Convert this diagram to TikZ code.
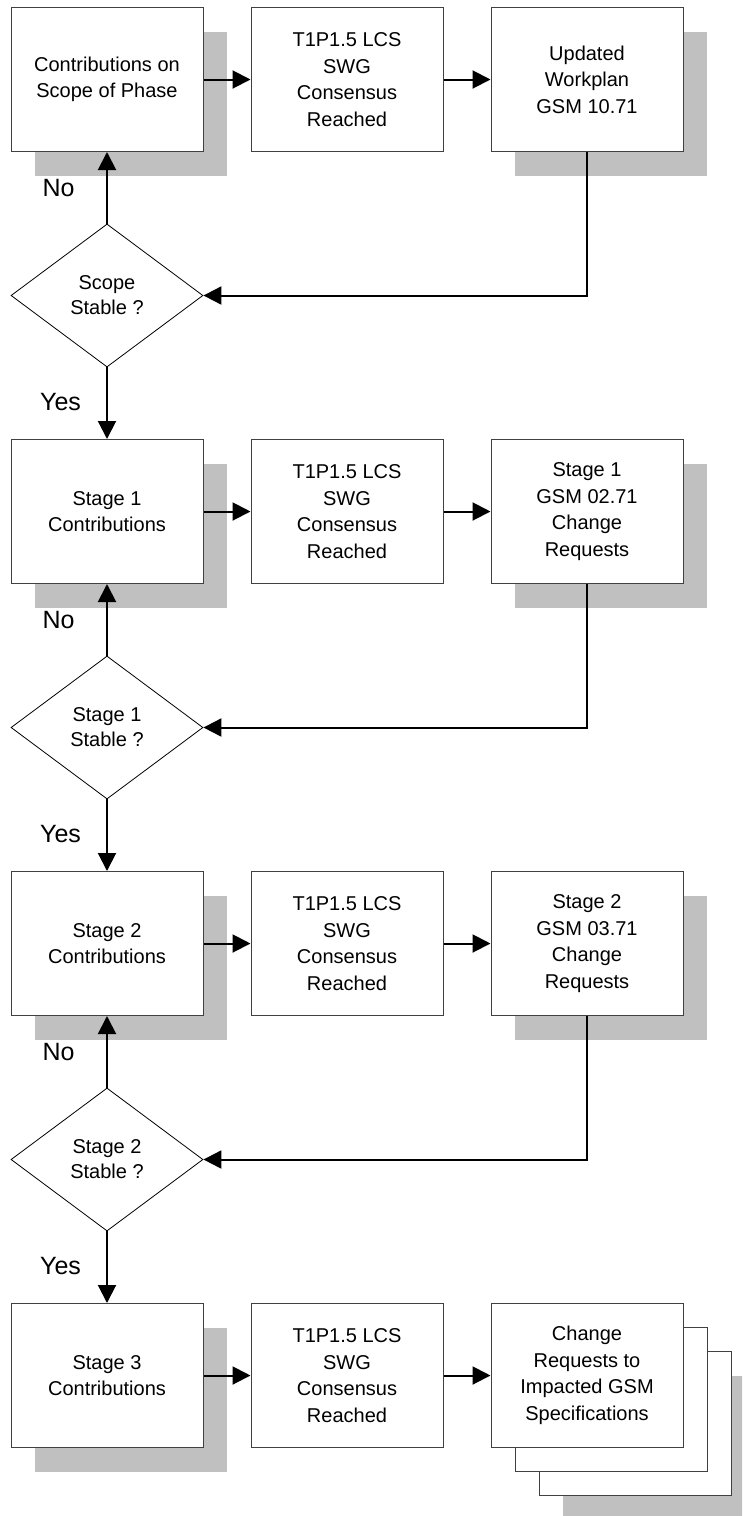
\documentclass[tikz,border=0pt]{standalone}
\usepackage{fontspec}
\setmainfont{Liberation Sans}
\usetikzlibrary{shapes.geometric,shadows,arrows.meta}
\definecolor{shadowgray}{HTML}{C0C0C0}
\definecolor{edgegray}{HTML}{404040}
\tikzset{box/.style={draw=edgegray, line width=1pt, fill=white,
                     minimum width=192pt, minimum height=144pt, inner sep=0pt,
                     align=center, font=\fontsize{20}{26.5}\selectfont}}
\tikzset{shadowed/.style={box, general shadow={fill=shadowgray, draw=none,
                     shadow xshift=24pt, shadow yshift=-24pt}}}
\tikzset{decision/.style={diamond, draw=black, line width=0.8pt, fill=white,
                     minimum width=192pt, minimum height=143pt, inner sep=0pt,
                     align=center, font=\fontsize{20}{25}\selectfont}}
\tikzset{flow/.style={line width=2pt, -{Triangle[length=18pt,width=18pt]}}}
\tikzset{answer/.style={inner sep=0pt, font=\fontsize{25}{30}\selectfont}}
\begin{document}
\begin{tikzpicture}[x=1pt, y=1pt]
            \path[use as bounding box, clip] (0,0) rectangle (742,-1516);

            \node[shadowed] (c1) at (107, -79.5) {Contributions on\\Scope of Phase};
            \node[box] (t1) at (347, -79.5) {T1P1.5 LCS\\SWG\\Consensus\\Reached};
            \node[shadowed] (u1) at (587, -79.5) {Updated\\Workplan\\GSM 10.71};
            \node[decision] (d1) at (107, -295.5) {Scope\\Stable ?};
            \node[answer] (no1) at (58.5, -188) {No};
            \node[answer] (yes1) at (60.5, -402) {Yes};

                    \draw[flow] (c1) -- (t1);
                    \draw[flow] (t1) -- (u1);
                    \draw[flow] (u1.south) |- (d1.east);
                    \draw[flow] (d1.north) -- (c1.south);

            \node[shadowed] (c2) at (107, -511.5) {Stage 1\\Contributions};
            \node[box] (t2) at (347, -511.5) {T1P1.5 LCS\\SWG\\Consensus\\Reached};
            \node[shadowed] (u2) at (587, -511.5) {Stage 1\\GSM 02.71\\Change\\Requests};
            \node[decision] (d2) at (107, -727.5) {Stage 1\\Stable ?};
            \node[answer] (no2) at (58.5, -620) {No};
            \node[answer] (yes2) at (60.5, -834) {Yes};

                    \draw[flow] (c2) -- (t2);
                    \draw[flow] (t2) -- (u2);
                    \draw[flow] (u2.south) |- (d2.east);
                    \draw[flow] (d2.north) -- (c2.south);

            \node[shadowed] (c3) at (107, -943.5) {Stage 2\\Contributions};
            \node[box] (t3) at (347, -943.5) {T1P1.5 LCS\\SWG\\Consensus\\Reached};
            \node[shadowed] (u3) at (587, -943.5) {Stage 2\\GSM 03.71\\Change\\Requests};
            \node[decision] (d3) at (107, -1159.5) {Stage 2\\Stable ?};
            \node[answer] (no3) at (58.5, -1052) {No};
            \node[answer] (yes3) at (60.5, -1266) {Yes};

                    \draw[flow] (c3) -- (t3);
                    \draw[flow] (t3) -- (u3);
                    \draw[flow] (u3.south) |- (d3.east);
                    \draw[flow] (d3.north) -- (c3.south);

            \node[shadowed] (c4) at (107, -1375.5) {Stage 3\\Contributions};
            \node[box] (t4) at (347, -1375.5) {T1P1.5 LCS\\SWG\\Consensus\\Reached};
            \node[shadowed] (ch3) at (635, -1423.5) {};
            \node[box] (ch2) at (611, -1399.5) {};
            \node[box] (ch1) at (587, -1375.5) {Change\\Requests to\\Impacted GSM\\Specifications};

                    \draw[flow] (c4) -- (t4);
                    \draw[flow] (t4) -- (ch1);

                    \draw[flow] (d1.south) -- (c2.north);
                    \draw[flow] (d2.south) -- (c3.north);
                    \draw[flow] (d3.south) -- (c4.north);
\end{tikzpicture}
\end{document}
